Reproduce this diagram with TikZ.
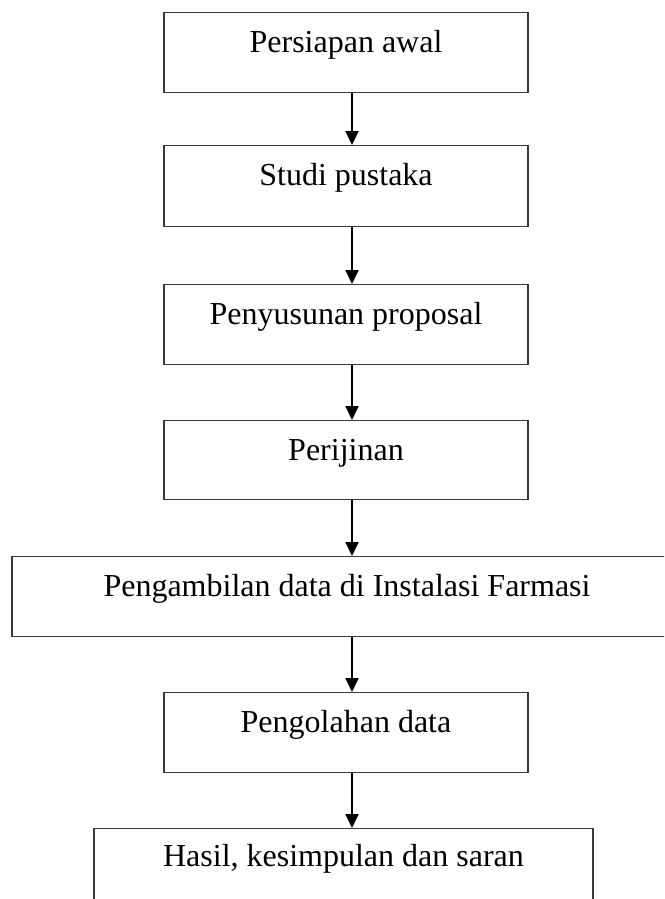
\documentclass[tikz,border=0pt]{standalone}
\usepackage{fontspec}
\setmainfont{Liberation Serif}
\usetikzlibrary{arrows.meta}
\begin{document}
\begin{tikzpicture}[x=1pt,y=-1pt,
  stepbox/.style={draw=black!78, line width=1.2pt, rectangle, inner sep=0pt,
    anchor=north, text height=40pt, text depth=40pt, font=\fontsize{32}{36}\selectfont},
  flow/.style={line width=2pt, -{Triangle[length=14pt,width=13pt]}}]
\useasboundingbox (0,0) rectangle (664,899);
\clip (0,0) rectangle (664,899);
\fill[white] (0,0) rectangle (664,899);
\coordinate (ax) at (352,0);
\node[stepbox, minimum width=364pt] (b1) at (346,12) {Persiapan awal};
\node[stepbox, minimum width=364pt, text depth=41pt] (b2) at (346,145) {Studi pustaka};
\node[stepbox, minimum width=364pt] (b3) at (346,284) {Penyusunan proposal};
\node[stepbox, minimum width=364pt, text depth=39pt] (b4) at (346,420) {Perijinan};
\node[stepbox, minimum width=670pt] (b5) at (347,556) {Pengambilan data di Instalasi Farmasi};
\node[stepbox, minimum width=364pt] (b6) at (346,692) {Pengolahan data};
\node[stepbox, minimum width=499pt, text height=38pt, text depth=80pt] (b7) at (343.5,828) {Hasil, kesimpulan dan saran};
\draw[flow] (b1.south -| ax) -- (b2.north -| ax);
\draw[flow] (b2.south -| ax) -- (b3.north -| ax);
\draw[flow] (b3.south -| ax) -- (b4.north -| ax);
\draw[flow] (b4.south -| ax) -- (b5.north -| ax);
\draw[flow] (b5.south -| ax) -- (b6.north -| ax);
\draw[flow] (b6.south -| ax) -- (b7.north -| ax);
\end{tikzpicture}
\end{document}
